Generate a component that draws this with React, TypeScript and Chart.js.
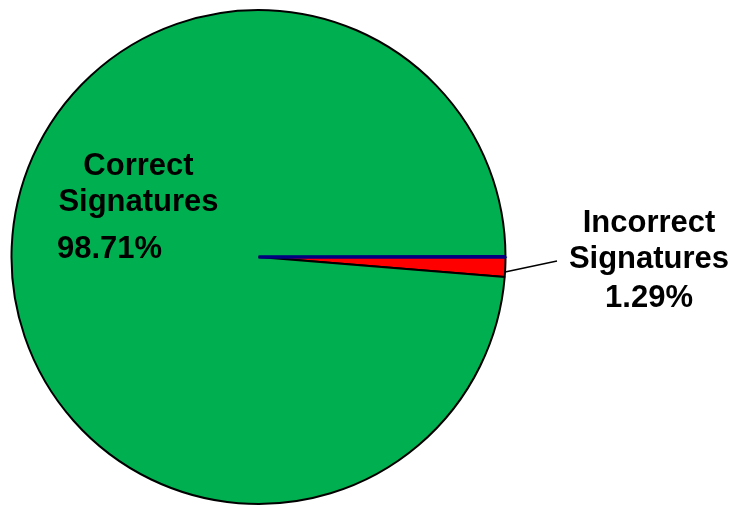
import React, { useEffect, useRef } from "react";
import { Chart, registerables } from "chart.js";

Chart.register(...registerables);

const categories = ["Incorrect Signatures", "Correct Signatures", "Boundary"];
const values = [1.29, 98.71, 0.01];
const percentLabels = ["1.29%", "98.71%"];
const colors = ["#FF0000", "#00B050", "#000080"];
const borderColors = ["#000000", "#000000", "#000080"];
const borderWidths = [2, 2, 3.5];

const FONT = "bold 31px 'Liberation Sans', Arial, sans-serif";

const labelPlugin = {
  id: "pieLabels",
  afterDatasetsDraw(chart: any) {
    const meta = chart.getDatasetMeta(0);
    const green = meta.data[1];
    const red = meta.data[0];
    if (!green || !red) return;
    const cx = green.x;
    const cy = green.y;
    const ctx = chart.ctx;
    ctx.save();
    ctx.fillStyle = "#000000";
    ctx.font = FONT;
    ctx.textBaseline = "alphabetic";

    // Correct Signatures (inside)
    ctx.textAlign = "center";
    ctx.fillText("Correct", cx - 120, cy - 82);
    ctx.fillText("Signatures", cx - 120, cy - 46);
    ctx.textAlign = "left";
    ctx.fillText(percentLabels[1], cx - 201.5, cy + 1);

    // Incorrect Signatures (outside)
    ctx.textAlign = "center";
    ctx.fillText("Incorrect", cx + 390.5, cy - 25);
    ctx.fillText("Signatures", cx + 390.5, cy + 11);
    ctx.fillText(percentLabels[0], cx + 390.5, cy + 50);

    // leader line
    const mid = (red.startAngle + red.endAngle) / 2 + 0.02;
    const r = red.outerRadius;
    ctx.beginPath();
    ctx.strokeStyle = "#000000";
    ctx.lineWidth = 1.5;
    ctx.moveTo(cx + Math.cos(mid) * r, cy + Math.sin(mid) * r);
    ctx.lineTo(cx + 298.5, cy + 4);
    ctx.stroke();
    ctx.restore();
  },
};

export default function App() {
  const ref = useRef<HTMLCanvasElement | null>(null);
  useEffect(() => {
    if (!ref.current) return;
    const chart = new Chart(ref.current, {
      type: "pie",
      data: {
        labels: categories,
        datasets: [
          {
            data: values,
            backgroundColor: colors,
            borderColor: borderColors,
            borderWidth: borderWidths,
            radius: 247,
          } as any,
        ],
      },
      options: {
        animation: false,
        responsive: false,
        rotation: 90,
        layout: { padding: { left: 11, right: 232, top: 10, bottom: 2 } },
        plugins: {
          legend: { display: false },
          tooltip: { enabled: false },
        },
      },
      plugins: [labelPlugin],
    });
    return () => chart.destroy();
  }, []);
  return (
    <div style={{ position: "fixed", left: 0, top: 0, width: 738, height: 506, background: "#fff" }}>
      <canvas ref={ref} width={738} height={506} style={{ width: 738, height: 506 }} />
    </div>
  );
}
